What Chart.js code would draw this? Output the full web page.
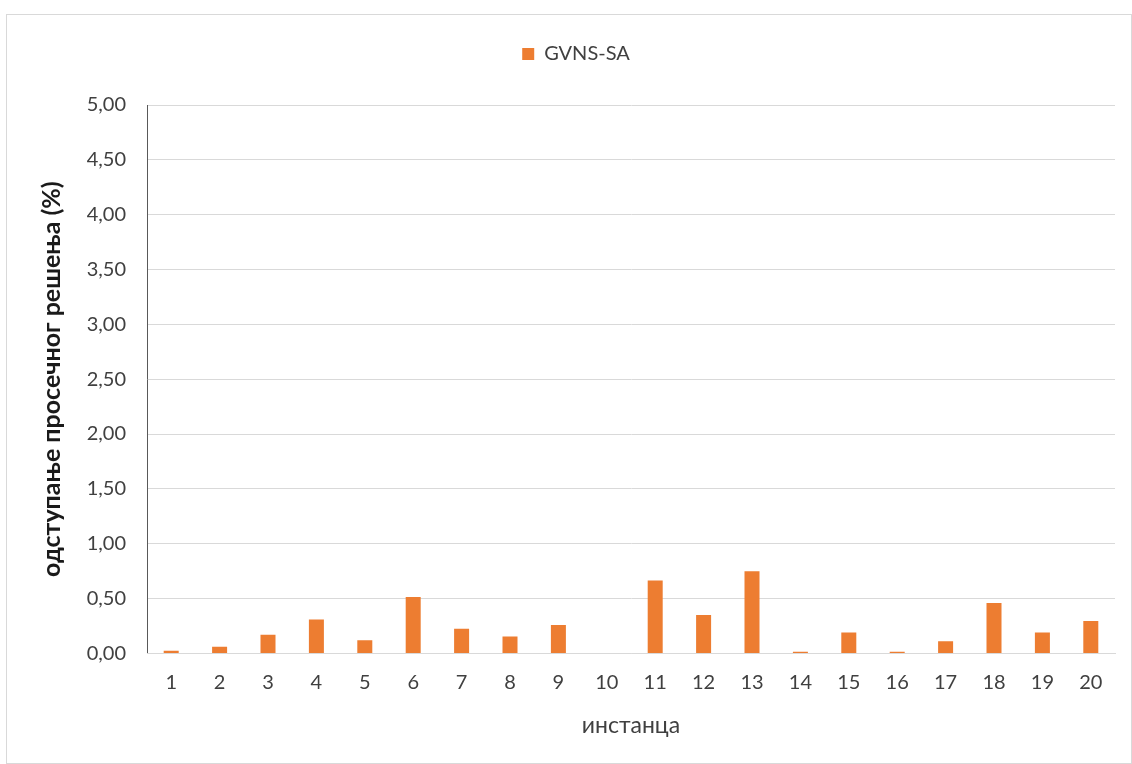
<!DOCTYPE html>
<html>
<head>
<meta charset="utf-8">
<script src="https://cdn.jsdelivr.net/npm/chart.js@4"></script>
<style>
    body { margin: 0; background: #ffffff; }
    #box {
        position: absolute;
        left: 6px; top: 14px;
        width: 1126px; height: 750px;
        border: 1px solid #d9d9d9;
        box-sizing: border-box;
    }
</style>
</head>
<body>
<div id="box"><canvas id="Chart" width="1124" height="748"></canvas></div>
<script>
// chart data
const instances = ['1', '2', '3', '4', '5', '6', '7', '8', '9', '10',
                   '11', '12', '13', '14', '15', '16', '17', '18', '19', '20'];
const gvnsSa = [0.025, 0.06, 0.17, 0.31, 0.12, 0.515, 0.225, 0.155, 0.26, 0,
                0.665, 0.35, 0.75, 0.015, 0.19, 0.015, 0.11, 0.46, 0.19, 0.295];
const yTicks = [0, 0.5, 1, 1.5, 2, 2.5, 3, 3.5, 4, 4.5, 5];

const font = 'Lato, "Open Sans", sans-serif';

// extra gap under the legend
const legendGap = {
    id: 'legendGap',
    beforeInit(chart) {
        const fit = chart.legend.fit;
        chart.legend.fit = function() {
            fit.bind(chart.legend)();
            this.height += 31;
        };
    }
};

document.addEventListener('DOMContentLoaded', function() {
    const ctx = document.getElementById('Chart').getContext('2d');
    const myChart = new Chart(ctx, {
        type: 'bar',
        data: {
            labels: instances,
            datasets: [{
                label: 'GVNS-SA',
                data: gvnsSa,
                backgroundColor: '#ed7d31',
                barPercentage: 0.62,
                categoryPercentage: 0.5
            }]
        },
        options: {
            responsive: false,
            animation: false,
            layout: {
                padding: { left: 30, right: 16, top: 7, bottom: 20 }
            },
            plugins: {
                legend: {
                    display: true,
                    position: 'top',
                    labels: {
                        boxWidth: 12,
                        boxHeight: 12,
                        color: '#404040',
                        font: { family: font, size: 20 },
                        padding: 22
                    }
                },
                tooltip: { enabled: false }
            },
            scales: {
                y: {
                    min: 0,
                    max: 5,
                    afterBuildTicks: function(axis) {
                        axis.ticks = yTicks.map(v => ({ value: v }));
                    },
                    afterFit: function(axis) {
                        axis.width = 110;
                    },
                    ticks: {
                        color: '#404040',
                        padding: 21,
                        font: { family: font, size: 20 },
                        callback: v => v.toFixed(2).replace('.', ',')
                    },
                    grid: {
                        color: '#d9d9d9',
                        lineWidth: 1,
                        drawTicks: false
                    },
                    border: { display: true, color: '#595959', width: 1 },
                    title: {
                        display: true,
                        text: 'одступање просечног решења (%)',
                        color: '#1a1a1a',
                        font: { family: font, size: 25, weight: 'bold' },
                        padding: 0
                    }
                },
                x: {
                    ticks: {
                        color: '#404040',
                        padding: 17,
                        font: { family: font, size: 20 }
                    },
                    grid: {
                        display: false,
                        drawTicks: false
                    },
                    border: { display: true, color: '#d9d9d9', width: 1 },
                    title: {
                        display: true,
                        text: 'инстанца',
                        color: '#404040',
                        font: { family: font, size: 23 },
                        padding: { top: 0 }
                    }
                }
            }
        },
        plugins: [legendGap]
    });
});
</script>
</body>
</html>
